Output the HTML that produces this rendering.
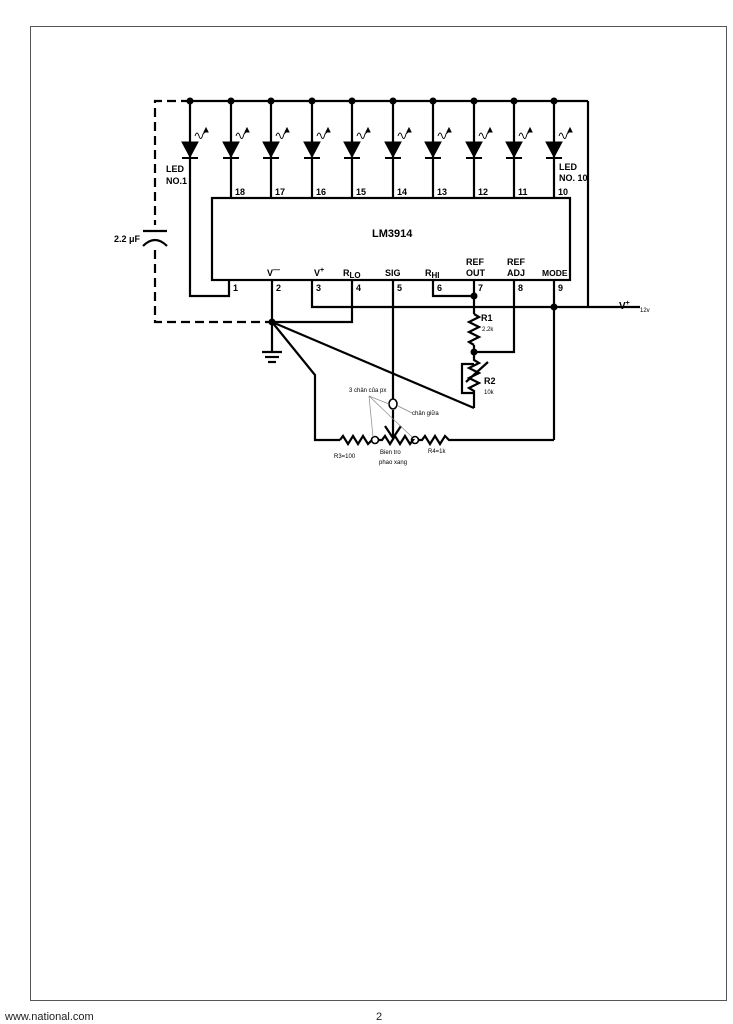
<!DOCTYPE html>
<html><head><meta charset="utf-8"><style>
body{margin:0;background:#fff;width:733px;height:1024px;overflow:hidden;font-family:"Liberation Sans",sans-serif}
</style></head><body>
<svg width="733" height="1024" xmlns="http://www.w3.org/2000/svg" style="position:absolute;left:0;top:0">
<rect x="30.5" y="26.5" width="696" height="974" fill="none" stroke="#555" stroke-width="1"/>
<text x="5" y="1020" font-size="11" fill="#222">www.national.com</text>
<text x="376" y="1020" font-size="11" fill="#222">2</text>
<g stroke="#000" stroke-width="2.2" fill="none">
<line x1="190" y1="101" x2="588" y2="101"/>
<line x1="588" y1="101" x2="588" y2="307"/>
<path d="M190 101 H155 V225 M155 250 V322 H272" stroke-dasharray="9,5"/>
<rect x="212" y="198" width="358" height="82"/>
<line x1="231" y1="101" x2="231" y2="198"/><line x1="271" y1="101" x2="271" y2="198"/>
<line x1="312" y1="101" x2="312" y2="198"/><line x1="352" y1="101" x2="352" y2="198"/>
<line x1="393" y1="101" x2="393" y2="198"/><line x1="433" y1="101" x2="433" y2="198"/>
<line x1="474" y1="101" x2="474" y2="198"/><line x1="514" y1="101" x2="514" y2="198"/>
<line x1="554" y1="101" x2="554" y2="198"/>
<path d="M190 101 V296 H229 V280"/>
<line x1="272" y1="280" x2="272" y2="352"/>
<path d="M312 280 V307 H640"/>
<path d="M352 280 V322 H272"/>
<line x1="393" y1="280" x2="393" y2="399"/>
<path d="M433 280 V296 H474"/>
<line x1="474" y1="280" x2="474" y2="314"/>
<path d="M474 345 V352 H514 V280"/>
<line x1="554" y1="280" x2="554" y2="440"/>
<path d="M474 314 l5 3 l-10 5 l10 5 l-10 5 l10 5 l-10 5 l5 3"/>
<path d="M474 352 V360 l5 3 l-10 5 l10 5 l-10 5 l10 5 l-10 5 l5 3 V408"/>
<path d="M474 393 H462 V364 H474"/>
<path d="M466 382 L488 362"/>
<line x1="272" y1="322" x2="474" y2="408"/>
<path d="M272 322 L315 375 V440 H340"/>
<path d="M340 440 l3 -4 l5 8 l5 -8 l5 8 l5 -8 l5 8 l4 -4 H372"/>
<path d="M378 440 H382 l3 -4 l5 8 l5 -8 l5 8 l5 -8 l5 8 l3 -4 H412"/>
<path d="M418 440 H422 l3 -4 l5 8 l5 -8 l5 8 l5 -8 l4 4 H554"/>
<line x1="393" y1="410" x2="393" y2="438"/>
<path d="M385 426 L393 438 L401 426"/>
<line x1="143" y1="231" x2="167" y2="231"/>
<path d="M143 246 Q155 234 167 246"/>
<line x1="262" y1="352" x2="282" y2="352" /><line x1="265" y1="357" x2="279" y2="357"/><line x1="268" y1="362" x2="276" y2="362"/>
</g>
<g stroke="#000" stroke-width="1.6" fill="none">
<circle cx="375" cy="440" r="3.5"/><circle cx="415" cy="440" r="3.5"/><ellipse cx="393" cy="404" rx="4" ry="5"/>
</g>
<g stroke="#888" stroke-width="0.7">
<line x1="369" y1="396" x2="373" y2="437"/><line x1="369" y1="396" x2="389" y2="404"/><line x1="369" y1="396" x2="412" y2="437"/>
<line x1="398" y1="406" x2="412" y2="413"/>
</g>
<g fill="#000">
<circle cx="190" cy="101" r="3.5"/><circle cx="231" cy="101" r="3.5"/><circle cx="271" cy="101" r="3.5"/><circle cx="312" cy="101" r="3.5"/><circle cx="352" cy="101" r="3.5"/><circle cx="393" cy="101" r="3.5"/><circle cx="433" cy="101" r="3.5"/><circle cx="474" cy="101" r="3.5"/><circle cx="514" cy="101" r="3.5"/><circle cx="554" cy="101" r="3.5"/>
<circle cx="474" cy="296" r="3.5"/><circle cx="554" cy="307" r="3.5"/><circle cx="272" cy="322" r="3.5"/><circle cx="474" cy="352" r="3.5"/>
</g>
<g fill="#000" stroke="#000">
<g transform="translate(190,0)"><path d="M-8 142 H8 L0 157Z"/><line x1="-8" y1="158" x2="8" y2="158" stroke-width="2"/><path d="M5 136 q2 -6 4 0 q2 6 4 -2 l4 -4" fill="none" stroke-width="0.9"/><path d="M16 128 l2 4 l-4 0z"/></g>
<g transform="translate(231,0)"><path d="M-8 142 H8 L0 157Z"/><line x1="-8" y1="158" x2="8" y2="158" stroke-width="2"/><path d="M5 136 q2 -6 4 0 q2 6 4 -2 l4 -4" fill="none" stroke-width="0.9"/><path d="M16 128 l2 4 l-4 0z"/></g>
<g transform="translate(271,0)"><path d="M-8 142 H8 L0 157Z"/><line x1="-8" y1="158" x2="8" y2="158" stroke-width="2"/><path d="M5 136 q2 -6 4 0 q2 6 4 -2 l4 -4" fill="none" stroke-width="0.9"/><path d="M16 128 l2 4 l-4 0z"/></g>
<g transform="translate(312,0)"><path d="M-8 142 H8 L0 157Z"/><line x1="-8" y1="158" x2="8" y2="158" stroke-width="2"/><path d="M5 136 q2 -6 4 0 q2 6 4 -2 l4 -4" fill="none" stroke-width="0.9"/><path d="M16 128 l2 4 l-4 0z"/></g>
<g transform="translate(352,0)"><path d="M-8 142 H8 L0 157Z"/><line x1="-8" y1="158" x2="8" y2="158" stroke-width="2"/><path d="M5 136 q2 -6 4 0 q2 6 4 -2 l4 -4" fill="none" stroke-width="0.9"/><path d="M16 128 l2 4 l-4 0z"/></g>
<g transform="translate(393,0)"><path d="M-8 142 H8 L0 157Z"/><line x1="-8" y1="158" x2="8" y2="158" stroke-width="2"/><path d="M5 136 q2 -6 4 0 q2 6 4 -2 l4 -4" fill="none" stroke-width="0.9"/><path d="M16 128 l2 4 l-4 0z"/></g>
<g transform="translate(433,0)"><path d="M-8 142 H8 L0 157Z"/><line x1="-8" y1="158" x2="8" y2="158" stroke-width="2"/><path d="M5 136 q2 -6 4 0 q2 6 4 -2 l4 -4" fill="none" stroke-width="0.9"/><path d="M16 128 l2 4 l-4 0z"/></g>
<g transform="translate(474,0)"><path d="M-8 142 H8 L0 157Z"/><line x1="-8" y1="158" x2="8" y2="158" stroke-width="2"/><path d="M5 136 q2 -6 4 0 q2 6 4 -2 l4 -4" fill="none" stroke-width="0.9"/><path d="M16 128 l2 4 l-4 0z"/></g>
<g transform="translate(514,0)"><path d="M-8 142 H8 L0 157Z"/><line x1="-8" y1="158" x2="8" y2="158" stroke-width="2"/><path d="M5 136 q2 -6 4 0 q2 6 4 -2 l4 -4" fill="none" stroke-width="0.9"/><path d="M16 128 l2 4 l-4 0z"/></g>
<g transform="translate(554,0)"><path d="M-8 142 H8 L0 157Z"/><line x1="-8" y1="158" x2="8" y2="158" stroke-width="2"/><path d="M5 136 q2 -6 4 0 q2 6 4 -2 l4 -4" fill="none" stroke-width="0.9"/><path d="M16 128 l2 4 l-4 0z"/></g>
</g>
<g font-size="9" font-weight="bold" fill="#000">
<text x="166" y="172">LED</text><text x="166" y="184">NO.1</text>
<text x="559" y="170">LED</text><text x="559" y="181">NO. 10</text>
<text x="235" y="195">18</text><text x="275" y="195">17</text><text x="316" y="195">16</text><text x="356" y="195">15</text><text x="397" y="195">14</text><text x="437" y="195">13</text><text x="478" y="195">12</text><text x="518" y="195">11</text><text x="558" y="195">10</text>
<text x="233" y="291">1</text><text x="276" y="291">2</text><text x="316" y="291">3</text><text x="356" y="291">4</text><text x="397" y="291">5</text><text x="437" y="291">6</text><text x="478" y="291">7</text><text x="518" y="291">8</text><text x="558" y="291">9</text>
<text x="267" y="276">V<tspan dy="-4" font-size="7">—</tspan></text>
<text x="314" y="276">V<tspan dy="-4" font-size="7">+</tspan></text>
<text x="343" y="276">R<tspan dy="2" font-size="8">LO</tspan></text>
<text x="385" y="276">SIG</text>
<text x="425" y="276">R<tspan dy="2" font-size="8">HI</tspan></text>
<text x="466" y="265">REF</text><text x="466" y="276">OUT</text>
<text x="507" y="265">REF</text><text x="507" y="276">ADJ</text>
<text x="542" y="276" font-size="8.5">MODE</text>
<text x="372" y="237" font-size="11">LM3914</text>
<text x="114" y="242">2.2 μF</text>
<text x="619" y="309" font-size="10">V<tspan dy="-4" font-size="7">+</tspan></text>
<text x="481" y="321">R1</text><text x="484" y="384">R2</text>
</g>
<g font-size="6" fill="#000">
<text x="640" y="312">12v</text>
<text x="482" y="331">2.2k</text><text x="484" y="394">10k</text>
<text x="349" y="392">3 chân của px</text>
<text x="412" y="415">chân giữa</text>
<text x="334" y="458">R3=100</text>
<text x="380" y="454">Bien tro</text><text x="379" y="464">phao xang</text>
<text x="428" y="453">R4=1k</text>
</g>
</svg>
</body></html>
